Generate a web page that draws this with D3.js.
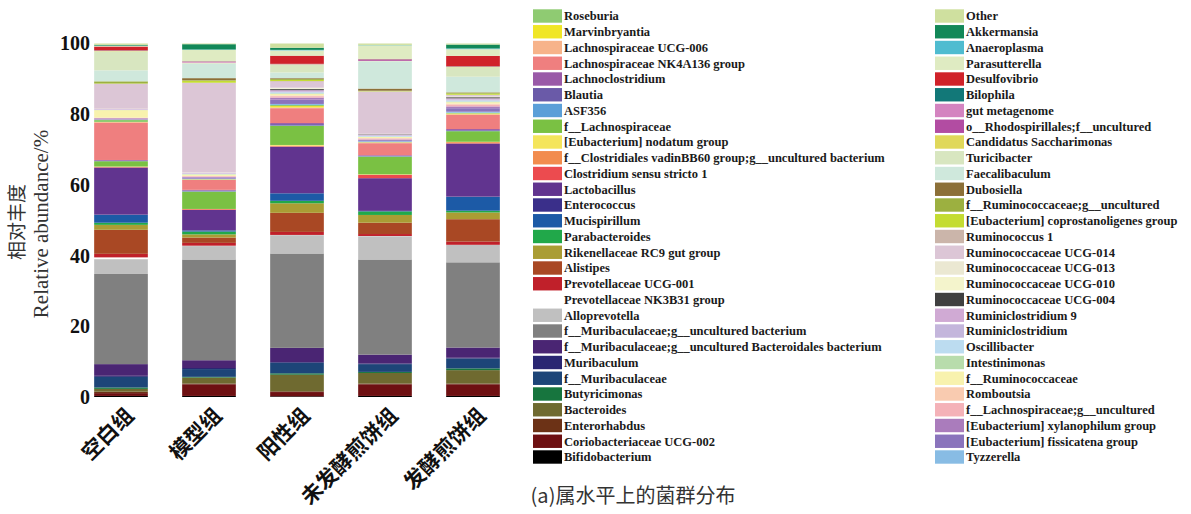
<!DOCTYPE html>
<html>
<head>
<meta charset="utf-8">
<script src="https://cdn.jsdelivr.net/npm/d3@7"></script>
<style>
  html, body { margin: 0; padding: 0; background: #fff; }
  svg { display: block; }
</style>
</head>
<body>
<svg id="chart" width="1191" height="514"></svg>
<script>
// Sample groups along the x axis
const groups = ["空白组", "模型组", "阳性组", "未发酵煎饼组", "发酵煎饼组"];

// Genera in stacking order, bottom of each bar first
const taxa = [
  "Bifidobacterium",
  "Coriobacteriaceae UCG-002",
  "Enterorhabdus",
  "Bacteroides",
  "Butyricimonas",
  "f__Muribaculaceae",
  "Muribaculum",
  "f__Muribaculaceae;g__uncultured Bacteroidales bacterium",
  "f__Muribaculaceae;g__uncultured bacterium",
  "Alloprevotella",
  "Prevotellaceae NK3B31 group",
  "Prevotellaceae UCG-001",
  "Alistipes",
  "Rikenellaceae RC9 gut group",
  "Parabacteroides",
  "Mucispirillum",
  "Enterococcus",
  "Lactobacillus",
  "Clostridium sensu stricto 1",
  "f__Clostridiales vadinBB60 group;g__uncultured bacterium",
  "[Eubacterium] nodatum group",
  "f__Lachnospiraceae",
  "ASF356",
  "Blautia",
  "Lachnoclostridium",
  "Lachnospiraceae NK4A136 group",
  "Lachnospiraceae UCG-006",
  "Marvinbryantia",
  "Roseburia",
  "Tyzzerella",
  "[Eubacterium] fissicatena group",
  "[Eubacterium] xylanophilum group",
  "f__Lachnospiraceae;g__uncultured",
  "Romboutsia",
  "f__Ruminococcaceae",
  "Intestinimonas",
  "Oscillibacter",
  "Ruminiclostridium",
  "Ruminiclostridium 9",
  "Ruminococcaceae UCG-004",
  "Ruminococcaceae UCG-010",
  "Ruminococcaceae UCG-013",
  "Ruminococcaceae UCG-014",
  "Ruminococcus 1",
  "[Eubacterium] coprostanoligenes group",
  "f__Ruminococcaceae;g__uncultured",
  "Dubosiella",
  "Faecalibaculum",
  "Turicibacter",
  "Candidatus Saccharimonas",
  "o__Rhodospirillales;f__uncultured",
  "gut metagenome",
  "Bilophila",
  "Desulfovibrio",
  "Parasutterella",
  "Anaeroplasma",
  "Akkermansia",
  "Other"
];

// Fill colour of each genus, same order as taxa
const palette = [
  "#000000", "#6e1012", "#6c3216", "#6f6a30", "#17753e", "#1d4578", "#2a2672", "#4a2573",
  "#808080", "#c0c0c0", "#ffffff", "#c0202a", "#a94824", "#aa9d34", "#21a84a", "#1c5aa6",
  "#3a2f8a", "#61348f", "#ec4b4f", "#f28c4e", "#f4e55c", "#7ac143", "#5b9fd8", "#6a5aa8",
  "#9a5aa8", "#ef7f7f", "#f7b38a", "#f0e626", "#8fcb72",
  "#88bce4", "#8a74bc", "#aa7cbc", "#f4b2b8", "#f9cbb0", "#f8f2ae", "#b8dcac", "#bcdcf0",
  "#c4b6dc", "#d0aad4", "#404040", "#f4f4cc", "#ebe8d2", "#dcc6d6", "#cbb5aa", "#c4dc32",
  "#9cb040", "#8c7038", "#cfe8dc", "#d8e6c0", "#e0d85a", "#b24ca2", "#d484c0", "#127878",
  "#d0222a", "#dfebc2", "#4fbcd0", "#128858", "#cfe09f"
];

// Relative abundance (%) per group, same order as taxa
const blank = [
  0.3, 0.8, 0.4, 0.8, 0.4, 3.0, 0.3, 3.3,
  25.5, 4.2, 0.5, 1.0, 6.8, 1.4, 0.6, 2.2,
  0.1, 13.3, 0.1, 0.1, 0.1, 1.5, 0.05, 0.1,
  0.2, 10.6, 0.1, 0.05, 0.6,
  0.05, 0.1, 0.3, 0.1, 0.1, 2.1, 0.05, 0.05,
  0.1, 0.3, 0.0, 0.05, 0.05, 6.8, 0.05, 0.1,
  0.6, 0.0, 3.1, 5.4, 0.1, 0.05, 0.05, 0.05,
  1.1, 0.2, 0.05, 0.2, 0.4
];
const model = [
  0.3, 3.3, 0.2, 1.7, 0.2, 2.2, 0.3, 2.2,
  28.5, 3.8, 0.1, 0.8, 1.5, 0.9, 0.8, 0.3,
  0.1, 5.7, 0.2, 0.05, 0.05, 4.9, 0.1, 0.2,
  0.2, 2.8, 0.1, 0.05, 0.1,
  0.1, 0.3, 0.2, 0.2, 0.1, 0.4, 0.1, 0.1,
  0.1, 0.2, 0.0, 0.05, 0.05, 25.3, 0.05, 0.6,
  0.1, 0.6, 4.1, 0.2, 0.05, 0.05, 0.3, 0.05,
  0.05, 3.2, 0.1, 1.5, 0.2
];
const positive = [
  0.2, 1.2, 0.2, 4.7, 0.4, 3.0, 0.2, 4.0,
  26.7, 5.2, 0.05, 0.85, 5.4, 2.7, 0.7, 2.1,
  0.1, 13.1, 0.1, 0.2, 0.2, 5.4, 0.1, 0.4,
  0.3, 4.2, 0.2, 0.4, 0.3,
  0.3, 1.2, 0.6, 0.4, 0.2, 0.4, 0.2, 0.3,
  0.3, 0.3, 0.3, 0.2, 0.2, 1.7, 0.2, 0.3,
  0.3, 0.2, 1.6, 2.2, 0.1, 0.05, 0.05, 0.05,
  2.3, 1.5, 0.15, 0.6, 1.2
];
const unfermented = [
  0.3, 3.3, 0.2, 3.0, 0.3, 2.2, 0.2, 2.5,
  26.9, 6.6, 0.05, 0.55, 3.2, 2.2, 1.0, 0.1,
  0.05, 9.25, 0.9, 0.1, 0.1, 5.0, 0.1, 0.1,
  0.2, 3.4, 0.2, 0.05, 0.1,
  0.2, 0.3, 0.2, 0.3, 0.1, 0.3, 0.1, 0.2,
  0.2, 0.2, 0.1, 0.05, 0.05, 11.95, 0.05, 0.1,
  0.1, 0.6, 7.7, 0.1, 0.05, 0.3, 0.1, 0.05,
  0.1, 3.85, 0.05, 0.05, 0.4
];
const fermented = [
  0.3, 3.3, 0.2, 3.8, 0.5, 2.8, 0.2, 2.9,
  24.1, 4.9, 0.05, 0.9, 6.35, 1.9, 0.5, 3.9,
  0.1, 15.0, 0.1, 0.3, 0.1, 3.0, 0.1, 0.2,
  0.3, 4.0, 0.2, 0.2, 0.2,
  0.3, 1.0, 0.5, 0.5, 0.3, 0.4, 0.2, 0.3,
  0.3, 0.3, 0.3, 0.1, 0.1, 0.4, 0.1, 0.3,
  0.3, 0.1, 4.4, 2.7, 0.1, 0.05, 0.05, 0.05,
  2.95, 1.9, 0.2, 1.1, 0.3
];

// Y axis tick values
const yTicks = [0, 20, 40, 60, 80, 100];

const groupValues = [blank, model, positive, unfermented, fermented];

const rows = groups.map((g, i) => {
  const row = { group: g };
  taxa.forEach((t, j) => { row[t] = groupValues[i][j]; });
  return row;
});

const svg = d3.select("#chart");
const serif = "'Liberation Serif', 'Times New Roman', serif";
const cjk = "'Noto Sans CJK SC', sans-serif";

const x = d3.scaleBand()
  .domain(groups)
  .range([77, 517])
  .paddingInner(0.39)
  .paddingOuter(0.195);

const y = d3.scaleLinear()
  .domain([0, 100])
  .range([397, 43.5]);

const color = d3.scaleOrdinal().domain(taxa).range(palette);

const stacked = d3.stack().keys(taxa)(rows);

// Stacked bars
const plot = svg.append("g");
plot.selectAll("g.layer")
  .data(stacked)
  .join("g")
  .attr("class", "layer")
  .attr("fill", d => color(d.key))
  .selectAll("rect")
  .data(d => d)
  .join("rect")
  .attr("x", d => x(d.data.group))
  .attr("width", x.bandwidth())
  .attr("y", d => y(d[1]))
  .attr("height", d => Math.max(0, y(d[0]) - y(d[1])));

// Y axis: labels only
const yAxis = svg.append("g")
  .attr("transform", "translate(90,0)")
  .call(d3.axisLeft(y).tickValues(yTicks).tickSize(0).tickPadding(0));
yAxis.select(".domain").remove();
yAxis.selectAll("text")
  .attr("font-family", serif)
  .attr("font-weight", "bold")
  .attr("font-size", 20)
  .attr("fill", "#111");

// X axis: rotated group names
const xAxis = svg.append("g")
  .attr("transform", "translate(0,397)")
  .call(d3.axisBottom(x).tickSize(0));
xAxis.select(".domain").remove();
xAxis.selectAll("text")
  .attr("font-family", cjk)
  .attr("font-weight", "bold")
  .attr("font-size", 21)
  .attr("fill", "#111")
  .attr("text-anchor", "end")
  .attr("dy", null)
  .attr("y", 0)
  .attr("transform", "translate(14,20) rotate(-45)");

// Y axis titles
svg.append("text")
  .attr("transform", "translate(24,222) rotate(-90)")
  .attr("text-anchor", "middle")
  .attr("font-family", cjk)
  .attr("font-size", 19)
  .attr("fill", "#333")
  .text("相对丰度");
svg.append("text")
  .attr("transform", "translate(48,224) rotate(-90)")
  .attr("text-anchor", "middle")
  .attr("font-family", serif)
  .attr("font-size", 21)
  .attr("fill", "#333")
  .text("Relative abundance/%");

// Legend: two columns, top of stack first
const legendOrder = taxa.slice().reverse();
const perCol = 29;
const legend = svg.append("g");
const item = legend.selectAll("g")
  .data(legendOrder)
  .join("g")
  .attr("transform", (d, i) => {
    const col = i < perCol ? 1 : 0;
    const row = i < perCol ? i : i - perCol;
    const lx = col === 0 ? 533 : 935;
    return `translate(${lx},${16 + row * 15.75})`;
  });
item.append("rect")
  .attr("x", 0)
  .attr("y", -6.7)
  .attr("width", 29)
  .attr("height", 13.4)
  .attr("fill", d => color(d));
item.append("text")
  .attr("x", 31)
  .attr("y", 4.3)
  .attr("font-family", serif)
  .attr("font-weight", "bold")
  .attr("font-size", 12.5)
  .attr("fill", "#1a1a1a")
  .text(d => d);

// Caption
svg.append("text")
  .attr("x", 633)
  .attr("y", 503)
  .attr("text-anchor", "middle")
  .attr("font-family", cjk)
  .attr("font-size", 20)
  .attr("fill", "#333")
  .text("(a)属水平上的菌群分布");
</script>
</body>
</html>
